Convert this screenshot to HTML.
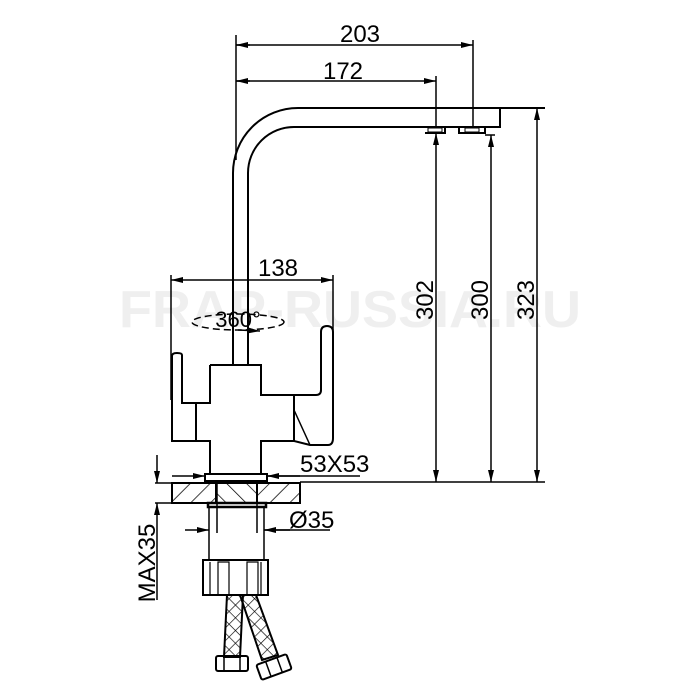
<!DOCTYPE html>
<html><head><meta charset="utf-8"><style>
html,body{margin:0;padding:0;background:#fff;}
svg{display:block;}
text{font-family:"Liberation Sans",sans-serif;fill:#000;}
</style></head><body>
<svg width="700" height="700" viewBox="0 0 700 700" xmlns="http://www.w3.org/2000/svg">
<defs>
<pattern id="h1" patternUnits="userSpaceOnUse" width="14" height="14" patternTransform="rotate(45)">
<line x1="0" y1="0" x2="0" y2="14" stroke="#000" stroke-width="1.5"/></pattern>
<pattern id="h2" patternUnits="userSpaceOnUse" width="14" height="14" patternTransform="rotate(-45)">
<line x1="0" y1="0" x2="0" y2="14" stroke="#000" stroke-width="1.5"/></pattern>
<pattern id="x" patternUnits="userSpaceOnUse" width="9" height="9" patternTransform="rotate(45)">
<line x1="0" y1="0" x2="0" y2="9" stroke="#000" stroke-width="1.3"/><line x1="0" y1="0" x2="9" y2="0" stroke="#000" stroke-width="1.3"/></pattern>
<marker id="a" markerWidth="12" markerHeight="6" refX="12" refY="3" orient="auto" markerUnits="userSpaceOnUse"><path d="M0,0 L12,3 L0,6z" fill="#000"/></marker>
</defs>
<text x="350" y="327" text-anchor="middle" font-size="52" font-weight="bold" textLength="462" lengthAdjust="spacingAndGlyphs" style="fill:#efefef">FRAP-RUSSIA.RU</text>
<g fill="none" stroke="#000" stroke-width="2">
<line x1="236" y1="35" x2="236" y2="160" stroke-width="1.5"/>
<line x1="473" y1="40" x2="473" y2="128" stroke-width="1.5"/>
<line x1="436" y1="76" x2="436" y2="128" stroke-width="1.5"/>
<line x1="250" y1="45" x2="236" y2="45" marker-end="url(#a)" stroke-width="1.5"/>
<line x1="236" y1="45" x2="473" y2="45" marker-end="url(#a)" stroke-width="1.5"/>
<line x1="236" y1="81" x2="436" y2="81" marker-end="url(#a)" stroke-width="1.5"/>
<line x1="250" y1="81" x2="236" y2="81" marker-end="url(#a)" stroke-width="1.5"/>
<path d="M233,365 L233,173 A65,65 0 0 1 298,108 L545,108"/>
<path d="M248,365 L248,173 A46,46 0 0 1 294,127 L500,127 L500,108"/>
<path d="M425,133 h20 v-6 M459,127 v6 h26 v-6" />
<rect x="428" y="128" width="14" height="4" stroke-width="1"/><rect x="465" y="128" width="14" height="4" stroke-width="1"/>
<line x1="300" y1="482" x2="545" y2="482" stroke-width="1.5"/>
<line x1="436" y1="300" x2="436" y2="133" marker-end="url(#a)" stroke-width="1.5"/>
<line x1="436" y1="300" x2="436" y2="482" marker-end="url(#a)" stroke-width="1.5"/>
<line x1="491" y1="300" x2="491" y2="135" marker-end="url(#a)" stroke-width="1.5"/>
<line x1="485" y1="135" x2="495" y2="135" stroke-width="1.5"/>
<line x1="491" y1="300" x2="491" y2="482" marker-end="url(#a)" stroke-width="1.5"/>
<line x1="537" y1="300" x2="537" y2="108" marker-end="url(#a)" stroke-width="1.5"/>
<line x1="537" y1="300" x2="537" y2="482" marker-end="url(#a)" stroke-width="1.5"/>
<line x1="171" y1="275" x2="171" y2="400" stroke-width="1.5"/>
<line x1="333" y1="275" x2="333" y2="330" stroke-width="1.5"/>
<line x1="250" y1="280" x2="171" y2="280" marker-end="url(#a)" stroke-width="1.5"/>
<line x1="250" y1="280" x2="333" y2="280" marker-end="url(#a)" stroke-width="1.5"/>
<ellipse cx="238" cy="322" rx="46" ry="8" stroke-dasharray="7,4" stroke-width="1.5"/>
<line x1="238" y1="330" x2="260" y2="331" marker-end="url(#a)" stroke-width="1.5"/>
<path d="M210,365 H261 V395 H294 M210,365 V403 H196 V441 H210 V475 M261,475 V441 H294"/>
<path d="M196,403 H182 V355 Q182,353 177,353 Q172,353 172,356 V441 H196"/>
<path d="M294,395 V441 L310,445 H328 Q333,445 333,438 V332 Q333,326 327,326 Q321,326 321,332 V390 Q321,395 316,395 Z"/>
<path d="M294,410 L310,445" stroke-width="1.5"/>
<rect x="205" y="474" width="62" height="7"/>
<line x1="172" y1="476" x2="205" y2="476" marker-end="url(#a)" stroke-width="1.5"/>
<line x1="300" y1="476" x2="267" y2="476" marker-end="url(#a)" stroke-width="1.5"/>
<line x1="267" y1="476" x2="360" y2="476" stroke-width="1.5"/>
<rect x="172" y="483" width="44" height="20" fill="url(#h1)"/>
<rect x="216" y="483" width="41" height="20" fill="url(#h2)"/>
<rect x="257" y="483" width="43" height="20" fill="url(#h1)"/>
<line x1="155" y1="483" x2="300" y2="483" stroke-width="1.5"/>
<line x1="155" y1="503" x2="172" y2="503" stroke-width="1.5"/>
<line x1="217" y1="483" x2="217" y2="533" stroke-width="1.5"/>
<line x1="257" y1="483" x2="257" y2="533" stroke-width="1.5"/>
<rect x="208" y="503" width="58" height="4" stroke-width="2.5"/>
<line x1="209" y1="507" x2="209" y2="560" stroke-width="1.5"/>
<line x1="264" y1="507" x2="264" y2="560" stroke-width="1.5"/>
<line x1="185" y1="530" x2="209" y2="530" marker-end="url(#a)" stroke-width="1.5"/>
<line x1="290" y1="530" x2="264" y2="530" marker-end="url(#a)" stroke-width="1.5"/>
<line x1="264" y1="530" x2="330" y2="530" stroke-width="1.5"/>
<line x1="157" y1="455" x2="157" y2="483" marker-end="url(#a)" stroke-width="1.5"/>
<line x1="157" y1="600" x2="157" y2="503" marker-end="url(#a)" stroke-width="1.5"/>
<rect x="203" y="560" width="65" height="35"/>
<path d="M210,595 V562 M261,595 V562 M218,595 V562 H229 V595 M247,595 V562 H258 V595" stroke-width="1.2"/>
<path d="M227,595 L224,657 L240,657 L243,595 Z" fill="url(#x)"/>
<path d="M240,595 L262,660 L278,655 L256,595 Z" fill="url(#x)"/>
<rect x="216" y="656" width="32" height="15" rx="2"/>
<line x1="224" y1="656" x2="224" y2="671" stroke-width="1.5"/><line x1="240" y1="656" x2="240" y2="671" stroke-width="1.5"/>
<g transform="translate(274,667) rotate(-20)"><rect x="-16" y="-8" width="32" height="16" rx="2"/><line x1="-6" y1="-8" x2="-6" y2="8" stroke-width="1.5"/><line x1="6" y1="-8" x2="6" y2="8" stroke-width="1.5"/></g>
</g>
<g font-size="24">
<text x="360" y="42" text-anchor="middle">203</text>
<text x="343" y="79" text-anchor="middle">172</text>
<text x="278" y="276" text-anchor="middle">138</text>
<text x="238" y="327" text-anchor="middle" font-size="22">360°</text>
<text x="300" y="472">53X53</text>
<text x="289" y="528">Ø35</text>
<text transform="translate(433,300) rotate(-90)" text-anchor="middle">302</text>
<text transform="translate(488,300) rotate(-90)" text-anchor="middle">300</text>
<text transform="translate(534,300) rotate(-90)" text-anchor="middle">323</text>
<text transform="translate(155,563) rotate(-90)" text-anchor="middle">MAX35</text>
</g>
</svg>
</body></html>
